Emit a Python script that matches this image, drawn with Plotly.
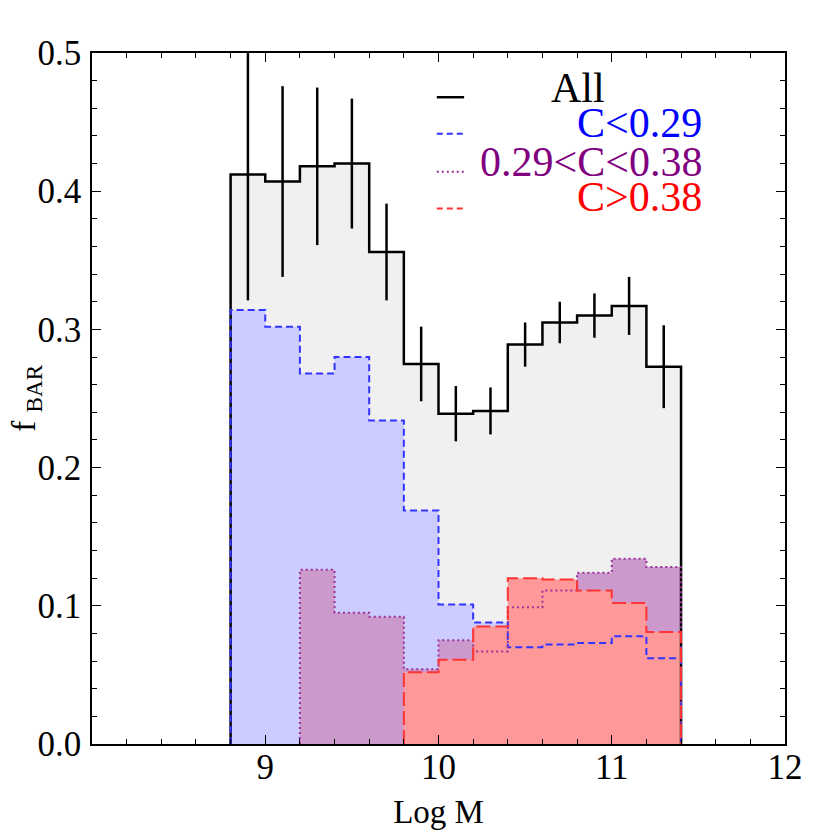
import numpy as np
import plotly.graph_objects as go

# bins in Log M
logm_edges = [8.8, 9.0, 9.2, 9.4, 9.6, 9.8, 10.0, 10.2, 10.4, 10.6, 10.8, 11.0, 11.2, 11.4]

# bar fraction per bin
f_all = [0.412, 0.407, 0.418, 0.420, 0.356, 0.275, 0.239, 0.241, 0.289, 0.305, 0.310, 0.317, 0.273]
err_all = [0.091, 0.069, 0.057, 0.047, 0.035, 0.027, 0.020, 0.017, 0.016, 0.015, 0.016, 0.021, 0.030]
f_low = [0.314, 0.302, 0.268, 0.280, 0.234, 0.169, 0.101, 0.088, 0.070, 0.072, 0.073, 0.078, 0.062]
f_mid = [0, 0, 0.126, 0.095, 0.092, 0.054, 0.075, 0.067, 0.099, 0.111, 0.124, 0.134, 0.128]
f_high = [0, 0, 0, 0, 0, 0.052, 0.061, 0.085, 0.120, 0.119, 0.111, 0.102, 0.081]

legend_labels = ["All", "C<0.29", "0.29<C<0.38", "C>0.38"]

FONT = "Liberation Serif, Times New Roman, serif"


def step_xy(edges, vals):
    # drop empty leading bins so the outline starts where the data starts
    vals = list(vals)
    k = 0
    while k < len(vals) and vals[k] == 0:
        k += 1
    e = edges[k:]
    v = vals[k:]
    x = [e[0]] + list(e[:-1]) + [e[-1], e[-1]]
    y = [0] + v + [v[-1], 0]
    return x, y


series = [
    # vals, fill, line colour, dash, width, legend dash
    (f_all, "#f0f0f0", "black", "solid", 2.5, "solid"),
    (f_low, "#ccccff", "#3333ff", "7px,4px", 2, "6px,4px"),
    (f_mid, "#cc99cc", "#993399", "2px,3px", 2, "2px,3px"),
    (f_high, "#ff9999", "#ff3333", "14px,5px", 2, "6px,4px"),
]

fig = go.Figure()

# fills first, outlines on top
for vals, fc, lc, dash, lw, ld in series:
    x, y = step_xy(logm_edges, vals)
    fig.add_trace(go.Scatter(x=x, y=y, mode="lines", line_shape="hv",
                             line=dict(width=0), fill="tozeroy", fillcolor=fc,
                             hoverinfo="skip", showlegend=False))

for vals, fc, lc, dash, lw, ld in series:
    x, y = step_xy(logm_edges, vals)
    fig.add_trace(go.Scatter(x=x, y=y, mode="lines", line_shape="hv",
                             line=dict(color=lc, width=lw, dash=dash),
                             showlegend=False))

centers = (np.array(logm_edges[:-1]) + np.array(logm_edges[1:])) / 2
fig.add_trace(go.Scatter(x=centers, y=f_all, mode="markers",
                         marker=dict(size=1, color="rgba(0,0,0,0)"),
                         error_y=dict(type="data", array=err_all, visible=True,
                                      color="black", thickness=2.5, width=0),
                         showlegend=False))

# hand made legend (text right aligned like the original)
leg_y = [0.936, 0.883, 0.828, 0.775]
txt_y = [0.949, 0.899, 0.842, 0.792]
txt_col = ["black", "#0000ff", "#800080", "#ff0000"]
for i, (vals, fc, lc, dash, lw, ld) in enumerate(series):
    fig.add_shape(type="line", xref="paper", yref="paper",
                  x0=0.4975, x1=0.537, y0=leg_y[i], y1=leg_y[i],
                  line=dict(color=lc, width=lw, dash=ld))
    if i == 0:
        fig.add_annotation(xref="paper", yref="paper", x=0.701, y=txt_y[i],
                           xanchor="center", yanchor="middle", showarrow=False,
                           text=legend_labels[i], font=dict(family=FONT, size=42, color=txt_col[i]))
    else:
        fig.add_annotation(xref="paper", yref="paper", x=0.883, y=txt_y[i],
                           xanchor="right", yanchor="middle", showarrow=False,
                           text=legend_labels[i], font=dict(family=FONT, size=42, color=txt_col[i]))

# y title as a rotated annotation so it can sit close to the page edge
fig.add_annotation(xref="paper", yref="paper", x=-0.095, y=0.5,
                   xanchor="center", yanchor="middle", showarrow=False, textangle=-90,
                   text="f <sub>BAR</sub>", font=dict(family=FONT, size=33, color="black"))

axis_common = dict(showline=True, linecolor="black", linewidth=1.5, mirror="ticks",
                   ticks="inside", ticklen=9, tickwidth=1.3, tickcolor="black",
                   showgrid=False, zeroline=False, automargin=False,
                   tickfont=dict(family=FONT, size=35, color="black"))

fig.update_xaxes(range=[8, 12], tickvals=[9, 10, 11, 12], ticklabelstandoff=-9,
                 minor=dict(dtick=0.2, tick0=8, ticks="inside", ticklen=5, tickcolor="black", tickwidth=1.3),
                 title=dict(text="Log M", font=dict(family=FONT, size=33, color="black"), standoff=14),
                 **axis_common)
fig.update_yaxes(range=[0, 0.5], dtick=0.1, tickformat=".1f", ticklabelstandoff=2,
                 minor=dict(dtick=0.02, ticks="inside", ticklen=5, tickcolor="black", tickwidth=1.3),
                 **axis_common)

# the page adds an 8px body margin, so margins are offset to land the axes where they belong
fig.update_layout(width=834, height=834,
                  margin=dict(l=84, r=57, t=45, b=98),
                  plot_bgcolor="white", paper_bgcolor="white",
                  showlegend=False)

fig.write_html("out.html")
